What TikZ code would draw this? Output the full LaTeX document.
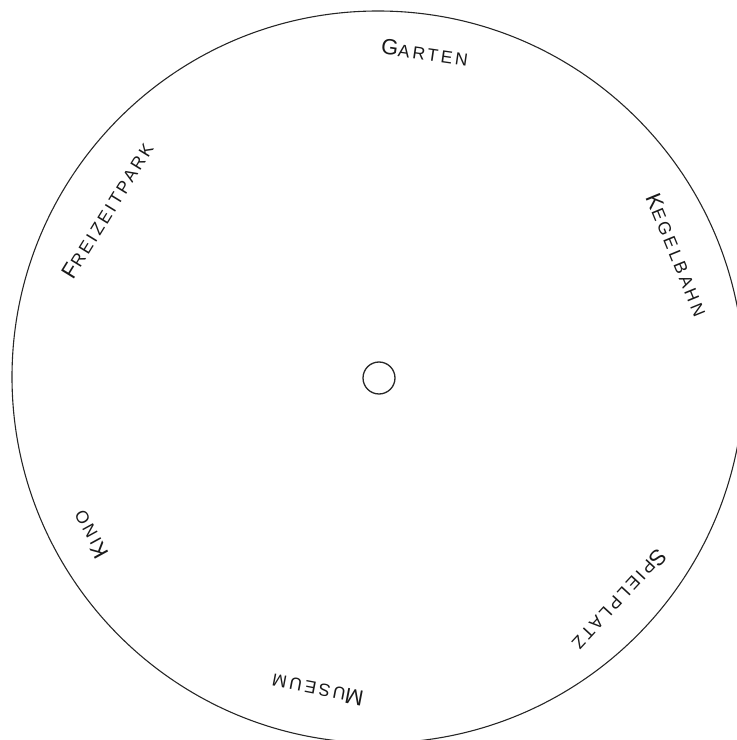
\documentclass[tikz,border=0pt]{standalone}
\usepackage{fontspec}
\setmainfont{Liberation Sans}[LetterSpace=16]
\usetikzlibrary{calc}
\newcommand\wlabel[2]{{\fontsize{22}{22}\selectfont #1}{\fontsize{17.5}{17.5}\selectfont #2}}
\begin{document}
\begin{tikzpicture}[x=1pt,y=1pt,
  rim/.style={draw=black!85, circle, inner sep=0pt, line width=1.1pt},
  place/.style={inner sep=0pt, text=black!90}]
\useasboundingbox (0,0) rectangle (737,740);
\clip (0,0) rectangle (737,740);
\coordinate (c) at (378,363);
\node[rim, minimum size=732pt] (wheel) at (c) {};
\node[rim, minimum size=32pt, line width=1.3pt] (hub) at (379,362) {};
\node[place, rotate=-8.2] (garten) at ($(c)+(81.8:328)$) {\wlabel{G}{ARTEN}};
\node[place, rotate=-67.8] (kegelbahn) at ($(c)+(22.2:323)$) {\wlabel{K}{EGELBAHN}};
\node[place, rotate=-132.7] (spielplatz) at ($(c)+(-42.7:329)$) {\wlabel{S}{PIELPLATZ}};
\node[place, rotate=169.1] (museum) at ($(c)+(-100.9:319)$) {\wlabel{M}{USEUM}};
\node[place, rotate=118.7] (kino) at ($(c)+(208.7:328)$) {\wlabel{K}{INO}};
\node[place, rotate=58.4] (freizeitpark) at ($(c)+(148.4:318)$) {\wlabel{F}{REIZEITPARK}};
\end{tikzpicture}
\end{document}
